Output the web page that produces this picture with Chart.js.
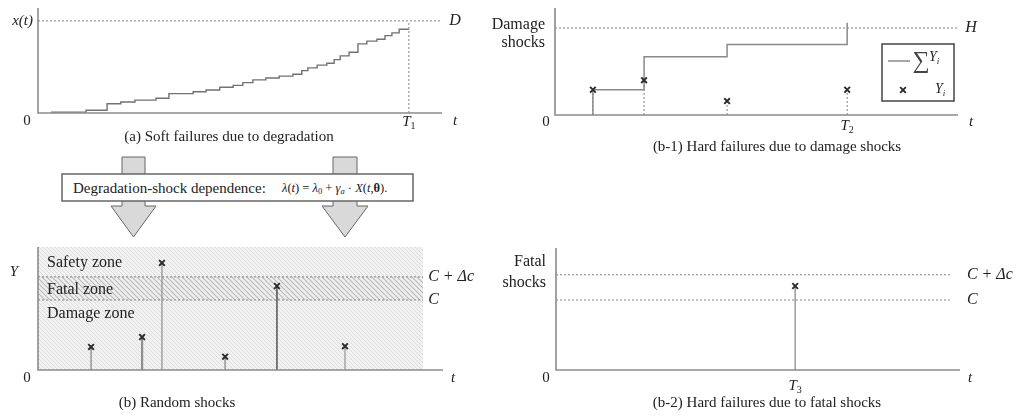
<!DOCTYPE html>
<html>
<head>
<meta charset="utf-8">
<script src="https://cdn.jsdelivr.net/npm/chart.js@4.4.1/dist/chart.umd.min.js"></script>
<style>
  html, body { margin: 0; padding: 0; background: #fff; }
  body { width: 1016px; height: 416px; position: relative; overflow: hidden; font-family: "Liberation Serif", serif; }
  canvas { position: absolute; display: block; }
  #banner { position: absolute; left: 0; top: 0; }
</style>
</head>
<body>
<canvas id="soft" width="508" height="160" style="left:0;top:0"></canvas>
<canvas id="damage" width="546" height="160" style="left:470px;top:0"></canvas>
<canvas id="shocks" width="508" height="176" style="left:0;top:240px"></canvas>
<canvas id="fatal" width="546" height="176" style="left:470px;top:240px"></canvas>

<svg id="banner" width="480" height="240" font-family="Liberation Serif, serif">
  <polygon points="122,157 145,157 145,206 156,206 133.5,237 111,206 122,206" fill="#d9d9d9" stroke="#666" stroke-width="1"/>
  <polygon points="333,157 357,157 357,206 368,206 345,237 322,206 333,206" fill="#d9d9d9" stroke="#666" stroke-width="1"/>
  <rect x="62" y="174" width="351" height="27" fill="#fff" stroke="#666" stroke-width="1.5"/>
  <text x="73" y="193" font-size="15" fill="#222">Degradation-shock dependence:</text>
  <text x="282" y="192" font-size="12.5" fill="#222"><tspan font-style="italic">λ</tspan>(<tspan font-style="italic">t</tspan>) = <tspan font-style="italic">λ</tspan><tspan font-size="8.5" dy="2">0</tspan><tspan dy="-2"> + </tspan><tspan font-style="italic">γ</tspan><tspan font-size="8.5" dy="2" font-style="italic">a</tspan><tspan dy="-2"> · </tspan><tspan font-style="italic">X</tspan>(<tspan font-style="italic">t</tspan>,<tspan font-weight="bold">θ</tspan>).</text>
</svg>

<script>
// (a) degradation path: jump times and level reached at each jump
const softStepT = [3.2, 11.9, 17.1, 20.5, 24.0, 29.2, 32.4, 38.4, 41.6, 45.0,
                   48.3, 50.7, 53.2, 56.4, 59.7, 63.1, 65.3, 66.8, 69.1, 71.5,
                   73.3, 74.8, 77.0, 79.2, 81.4, 83.9, 85.9, 87.6, 89.4, 91.8];
const softStepX = [0.01, 0.03, 0.10, 0.12, 0.14, 0.16, 0.21, 0.23, 0.25, 0.28,
                   0.30, 0.33, 0.36, 0.38, 0.40, 0.42, 0.46, 0.49, 0.52, 0.54,
                   0.58, 0.62, 0.66, 0.75, 0.78, 0.80, 0.84, 0.87, 0.91, 0.91];
const softD = 1;
const softT1 = 91.8;

// (b-1) damage shocks and their running sum
const damageT = [9.4, 22.1, 42.7, 72.5];
const damageY = [0.29, 0.40, 0.16, 0.29];
const damageSum = [0.29, 0.67, 0.81, 1.06];
const damageH = 1;
const damageT2 = 72.5;

// (b) random shocks
const shockT = [13.1, 25.7, 30.6, 46.2, 59.0, 75.8];
const shockY = [0.33, 0.47, 1.53, 0.19, 1.20, 0.34];
const shockC = 1;
const shockCdc = 1.33;
const shockZoneEnd = 95.1;

// (b-2) fatal shock
const fatalT = [59.2];
const fatalY = [1.20];
const fatalC = 1;
const fatalCdc = 1.36;
const fatalLineEnd = 97.5;

const FONT = '"Liberation Serif", "DejaVu Serif", serif';
const AXIS = '#8c8c8c';
const DOT = '#808080';

function txt(ctx, s, x, y, size, opt) {
  opt = opt || {};
  ctx.save();
  ctx.font = (opt.italic ? 'italic ' : '') + size + 'px ' + FONT;
  ctx.textAlign = opt.align || 'center';
  ctx.textBaseline = 'middle';
  ctx.fillStyle = opt.color || '#222';
  ctx.fillText(s, x, y);
  ctx.restore();
}

// italic letter with a small subscript (digits upright), centred on x
function subTxt(ctx, base, sub, x, y, size, align) {
  const subSize = Math.round(size * 0.65);
  const subItalic = !/^[0-9]+$/.test(sub);
  ctx.save();
  ctx.font = 'italic ' + size + 'px ' + FONT;
  const wb = ctx.measureText(base).width;
  ctx.font = (subItalic ? 'italic ' : '') + subSize + 'px ' + FONT;
  const ws = ctx.measureText(sub).width;
  ctx.restore();
  const x0 = align === 'left' ? x : x - (wb + ws) / 2;
  txt(ctx, base, x0, y, size, {italic: true, align: 'left'});
  txt(ctx, sub, x0 + wb, y + size * 0.3, subSize, {italic: subItalic, align: 'left'});
}

const axesPlugin = {
  id: 'axes',
  afterDatasetsDraw(chart) {
    const {ctx, chartArea: a} = chart;
    ctx.save();
    ctx.strokeStyle = AXIS;
    ctx.lineWidth = 1.6;
    ctx.beginPath();
    ctx.moveTo(a.left, a.top);
    ctx.lineTo(a.left, a.bottom);
    ctx.lineTo(a.right, a.bottom);
    ctx.stroke();
    ctx.restore();
  }
};

function baseOptions(pad, yMax) {
  return {
    responsive: false,
    animation: false,
    layout: { padding: pad },
    plugins: { legend: { display: false }, tooltip: { enabled: false } },
    scales: {
      x: { type: 'linear', display: false, min: 0, max: 100 },
      y: { type: 'linear', display: false, min: 0, max: yMax }
    },
    elements: { point: { radius: 0 }, line: { tension: 0 } }
  };
}

function hline(y, x0, x1, extra) {
  return Object.assign({
    data: [{x: x0, y: y}, {x: x1, y: y}],
    borderColor: DOT, borderWidth: 1, borderDash: [2, 2], pointRadius: 0, fill: false
  }, extra || {});
}

function vline(x, y0, y1, extra) {
  return Object.assign({
    data: [{x: x, y: y0}, {x: x, y: y1}],
    borderColor: DOT, borderWidth: 1, borderDash: [2, 2], pointRadius: 0, fill: false
  }, extra || {});
}

function marks(ts, ys) {
  return {
    data: ts.map((t, i) => ({x: t, y: ys[i]})),
    showLine: false, pointStyle: 'crossRot', pointRadius: 4, pointBorderWidth: 1.9,
    pointBorderColor: '#2a2a2a', order: 0
  };
}

function hatch(size, bg, fg, w) {
  const c = document.createElement('canvas');
  c.width = c.height = size;
  const g = c.getContext('2d');
  g.fillStyle = bg;
  g.fillRect(0, 0, size, size);
  g.strokeStyle = fg;
  g.lineWidth = w;
  g.beginPath();
  for (const k of [-size, 0, size]) { g.moveTo(k, 0); g.lineTo(k + size, size); }
  g.stroke();
  return g.createPattern(c, 'repeat');
}

// === (a) soft failures ===
new Chart(document.getElementById('soft'), {
  type: 'line',
  data: {
    datasets: [
      {
        data: softStepT.map((t, i) => ({x: t, y: softStepX[i]})),
        stepped: 'before', borderColor: '#727272', borderWidth: 1.4, pointRadius: 0, fill: false
      },
      hline(softD, 0, 100),
      vline(softT1, 0, softD)
    ]
  },
  options: baseOptions({left: 38, top: 8, right: 66, bottom: 47}, 1.14),
  plugins: [axesPlugin, {
    id: 'softText',
    afterDraw(chart) {
      const {ctx, chartArea: a, scales: {x, y}} = chart;
      txt(ctx, 'x(t)', a.left - 5, y.getPixelForValue(softD), 15, {italic: true, align: 'right'});
      txt(ctx, 'D', a.right + 13, y.getPixelForValue(softD), 16, {italic: true});
      txt(ctx, '0', a.left - 11, a.bottom + 8, 15);
      txt(ctx, 't', a.right + 13, a.bottom + 8, 15, {italic: true});
      subTxt(ctx, 'T', '1', x.getPixelForValue(softT1), a.bottom + 9, 15);
      txt(ctx, '(a) Soft failures due to degradation', 229, 137, 15);
    }
  }]
});

// === (b-1) hard failures due to damage shocks ===
new Chart(document.getElementById('damage'), {
  type: 'line',
  data: {
    datasets: [
      {
        data: [{x: damageT[0], y: 0}].concat(damageT.map((t, i) => ({x: t, y: damageSum[i]}))),
        stepped: 'before', borderColor: '#8a8a8a', borderWidth: 1.5, pointRadius: 0, fill: false, order: 2
      },
      marks(damageT, damageY),
      hline(damageH, 0, 100, {order: 3})
    ].concat(damageT.map((t, i) => vline(t, 0, damageY[i], {order: 4})))
  },
  options: baseOptions({left: 85, top: 8, right: 58, bottom: 45}, 1.23),
  plugins: [axesPlugin, {
    id: 'damageText',
    afterDraw(chart) {
      const {ctx, chartArea: a, scales: {x, y}} = chart;
      txt(ctx, 'Damage', a.left - 10, a.top + 17, 16, {align: 'right'});
      txt(ctx, 'shocks', a.left - 10, a.top + 35, 16, {align: 'right'});
      txt(ctx, 'H', a.right + 13, y.getPixelForValue(damageH), 16, {italic: true});
      txt(ctx, '0', a.left - 9, a.bottom + 7, 15);
      txt(ctx, 't', a.right + 13, a.bottom + 7, 15, {italic: true});
      subTxt(ctx, 'T', '2', x.getPixelForValue(damageT2), a.bottom + 11, 15);
      txt(ctx, '(b-1) Hard failures due to damage shocks', 307, 147, 15);

      // legend box
      ctx.save();
      ctx.strokeStyle = '#444';
      ctx.lineWidth = 1.5;
      ctx.strokeRect(412, 44, 72, 57);
      ctx.strokeStyle = '#8a8a8a';
      ctx.lineWidth = 1.5;
      ctx.beginPath();
      ctx.moveTo(418, 61);
      ctx.lineTo(440, 61);
      ctx.stroke();
      ctx.strokeStyle = '#2a2a2a';
      ctx.lineWidth = 1.9;
      Chart.helpers.drawPoint(ctx, {pointStyle: 'crossRot', radius: 4, borderWidth: 1.9}, 433, 90);
      ctx.restore();
      txt(ctx, '∑', 451, 62, 24, {color: '#444'});
      subTxt(ctx, 'Y', 'i', 459, 57, 14, 'left');
      subTxt(ctx, 'Y', 'i', 465, 89, 14, 'left');
    }
  }]
});

// === (b) random shocks ===
const lightHatch = hatch(4, '#f2f2f2', '#dddddd', 1);
const fatalHatch = hatch(5, '#eeeeee', '#b8b8b8', 1.1);
const shockShade = ['#8e8e8e', '#8e8e8e', '#9a9a9a', '#9a9a9a', '#3c3c3c', '#a0a0a0'];
const shockWidth = [1.4, 2.2, 1.4, 1.6, 1.3, 1.4];

new Chart(document.getElementById('shocks'), {
  type: 'line',
  data: {
    datasets: [
      marks(shockT, shockY),
      {
        data: [{x: 0, y: 1.757}, {x: shockZoneEnd, y: 1.757}],
        borderWidth: 0, pointRadius: 0, fill: 'origin', backgroundColor: lightHatch, order: 20
      },
      {
        data: [{x: 0, y: shockCdc}, {x: shockZoneEnd, y: shockCdc}],
        borderColor: DOT, borderWidth: 1, borderDash: [2, 2], pointRadius: 0,
        fill: {value: shockC}, backgroundColor: fatalHatch, order: 10
      },
      hline(shockC, 0, shockZoneEnd, {order: 9})
    ].concat(shockT.map((t, i) => vline(t, 0, shockY[i], {
      borderDash: [], borderColor: shockShade[i], borderWidth: shockWidth[i], order: 5
    })))
  },
  options: baseOptions({left: 38, top: 7, right: 65, bottom: 46}, 1.757),
  plugins: [axesPlugin, {
    id: 'shockText',
    afterDraw(chart) {
      const {ctx, chartArea: a, scales: {x, y}} = chart;
      const xe = x.getPixelForValue(shockZoneEnd);
      txt(ctx, 'Y', a.left - 24, 32, 15, {italic: true});
      txt(ctx, 'Safety zone', a.left + 9, 23, 16, {align: 'left'});
      txt(ctx, 'Fatal zone', a.left + 9, 50, 16, {align: 'left'});
      txt(ctx, 'Damage zone', a.left + 9, 74, 16, {align: 'left'});
      txt(ctx, 'C + Δc', xe + 5, y.getPixelForValue(shockCdc), 16, {italic: true, align: 'left'});
      txt(ctx, 'C', xe + 5, y.getPixelForValue(shockC), 16, {italic: true, align: 'left'});
      txt(ctx, '0', a.left - 11, a.bottom + 8, 15);
      txt(ctx, 't', a.right + 10, a.bottom + 8, 15, {italic: true});
      txt(ctx, '(b) Random shocks', 177, 163, 15);
    }
  }]
});

// === (b-2) hard failures due to fatal shocks ===
new Chart(document.getElementById('fatal'), {
  type: 'line',
  data: {
    datasets: [
      marks(fatalT, fatalY),
      hline(fatalCdc, 0, fatalLineEnd),
      hline(fatalC, 0, fatalLineEnd)
    ].concat(fatalT.map((t, i) => vline(t, 0, fatalY[i], {
      borderDash: [], borderColor: '#9a9a9a', borderWidth: 1.5, order: 5
    })))
  },
  options: baseOptions({left: 86, top: 8, right: 56, bottom: 46}, 1.743),
  plugins: [axesPlugin, {
    id: 'fatalText',
    afterDraw(chart) {
      const {ctx, chartArea: a, scales: {x, y}} = chart;
      const xe = x.getPixelForValue(fatalLineEnd);
      txt(ctx, 'Fatal', a.left - 10, 22, 16, {align: 'right'});
      txt(ctx, 'shocks', a.left - 10, 43, 16, {align: 'right'});
      txt(ctx, 'C + Δc', xe + 17, y.getPixelForValue(fatalCdc), 16, {italic: true, align: 'left'});
      txt(ctx, 'C', xe + 17, y.getPixelForValue(fatalC), 16, {italic: true, align: 'left'});
      txt(ctx, '0', a.left - 10, a.bottom + 8, 15);
      txt(ctx, 't', a.right + 10, a.bottom + 8, 15, {italic: true});
      subTxt(ctx, 'T', '3', x.getPixelForValue(fatalT[0]), a.bottom + 16, 15);
      txt(ctx, '(b-2) Hard failures due to fatal shocks', 297, 163, 15);
    }
  }]
});
</script>
</body>
</html>
